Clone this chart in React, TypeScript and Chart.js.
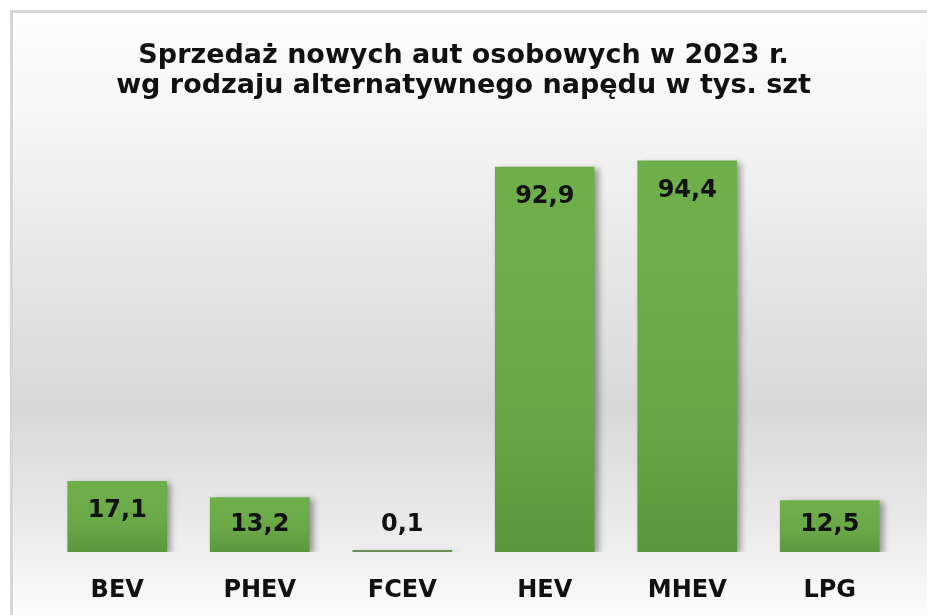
import React, { useEffect, useRef } from "react";
import { Chart, registerables } from "chart.js";

Chart.register(...registerables);

const categories = ["BEV", "PHEV", "FCEV", "HEV", "MHEV", "LPG"];
const sales = [17.1, 13.2, 0.1, 92.9, 94.4, 12.5];
const titleLines = [
  "Sprzedaż nowych aut osobowych w 2023 r.",
  "wg rodzaju alternatywnego napędu w tys. szt",
];

const FONT = "'DejaVu Sans', sans-serif";

const backgroundPlugin = {
  id: "bgFrame",
  beforeDraw(chart: any) {
    const { ctx, width, height } = chart;
    ctx.save();
    ctx.fillStyle = "#ffffff";
    ctx.fillRect(0, 0, width, height);
    const g = ctx.createLinearGradient(0, 10, 0, height);
    g.addColorStop(0, "#fdfdfd");
    g.addColorStop(0.15, "#f7f7f7");
    g.addColorStop(0.66, "#d8d8d8");
    g.addColorStop(0.86, "#ebebeb");
    g.addColorStop(1, "#fcfcfc");
    ctx.fillStyle = g;
    ctx.fillRect(11, 11, width - 11, height - 11);
    ctx.strokeStyle = "#d6d6d6";
    ctx.lineWidth = 3;
    ctx.beginPath();
    ctx.moveTo(11.5, height);
    ctx.lineTo(11.5, 11.5);
    ctx.lineTo(width, 11.5);
    ctx.stroke();
    ctx.restore();
  },
};

const shadowPlugin = {
  id: "barShadow",
  beforeDatasetsDraw(chart: any) {
    const ctx = chart.ctx;
    ctx.save();
    ctx.shadowColor = "rgba(0,0,0,0.35)";
    ctx.shadowBlur = 6;
    ctx.shadowOffsetX = 4;
    ctx.shadowOffsetY = 2;
  },
  afterDatasetsDraw(chart: any) {
    chart.ctx.restore();
  },
};

const labelPlugin = {
  id: "valueLabels",
  afterDatasetsDraw(chart: any) {
    const { ctx } = chart;
    const meta = chart.getDatasetMeta(0);
    ctx.save();
    ctx.font = `bold 24px ${FONT}`;
    ctx.fillStyle = "#111111";
    ctx.textAlign = "center";
    ctx.textBaseline = "middle";
    meta.data.forEach((bar: any, i: number) => {
      const v = sales[i];
      const y = Math.min(bar.y + 30, bar.base - 27);
      ctx.fillText(v.toFixed(1).replace(".", ","), bar.x, y);
    });
    ctx.restore();
  },
};

export default function App() {
  const ref = useRef<HTMLCanvasElement | null>(null);
  useEffect(() => {
    document.body.style.margin = "0";
    const canvas = ref.current!;
    const chart = new Chart(canvas, {
      type: "bar",
      data: {
        labels: categories,
        datasets: [
          {
            data: sales,
            backgroundColor: (c: any) => {
              const area = c.chart.chartArea;
              const ys = c.chart.scales && c.chart.scales.y;
              if (!area || !ys || c.raw == null) return "#6aa84a";
              const top = ys.getPixelForValue(c.raw);
              const base = ys.getPixelForValue(0);
              if (base - top < 4) return "#6b8f58";
              const g = c.chart.ctx.createLinearGradient(0, top, 0, base);
              g.addColorStop(0, "#6fb04b");
              g.addColorStop(0.6, "#69a747");
              g.addColorStop(1, "#5b973d");
              return g;
            },
            borderWidth: 0,
            barPercentage: 0.7,
            categoryPercentage: 1,
            minBarLength: 2,
          },
        ],
      },
      options: {
        animation: false,
        responsive: false,
        maintainAspectRatio: false,
        layout: { padding: { left: 26, right: 26, top: 0, bottom: 0 } },
        plugins: {
          legend: { display: false },
          tooltip: { enabled: false },
          title: {
            display: true,
            text: titleLines,
            color: "#111111",
            font: { family: FONT, size: 27, weight: "bold", lineHeight: 1.1 },
            padding: { top: 41, bottom: 37 },
          },
        },
        scales: {
          x: {
            grid: { display: false },
            border: { display: false },
            ticks: {
              color: "#111111",
              font: { family: FONT, size: 24, weight: "bold", lineHeight: 1.2 },
              padding: 16,
            },
            afterFit: (scale: any) => {
              scale.height = 63;
            },
          },
          y: {
            display: true,
            min: 0,
            max: 100,
            grid: { display: false },
            border: { display: false },
            ticks: { display: false },
            afterFit: (scale: any) => {
              scale.width = 20;
            },
          },
        },
      },
      plugins: [backgroundPlugin, shadowPlugin, labelPlugin],
    });
    return () => chart.destroy();
  }, []);
  return (
    <div style={{ position: "absolute", left: 0, top: 0, width: 927, height: 615 }}>
      <canvas ref={ref} width={927} height={615} style={{ width: 927, height: 615 }} />
    </div>
  );
}
